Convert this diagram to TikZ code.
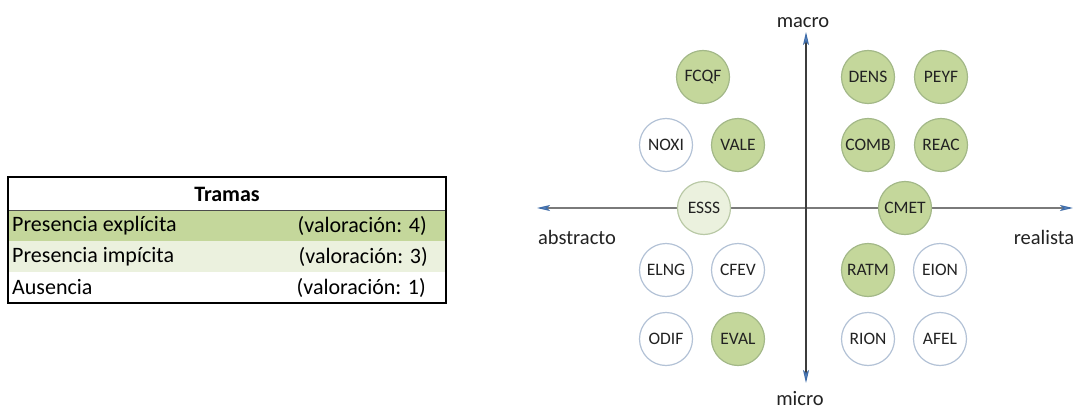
\documentclass[tikz,border=0pt]{standalone}
\usepackage{fontspec}
\setmainfont{Carlito}
\usetikzlibrary{arrows.meta}

\definecolor{explicit}{HTML}{C4D79B}
\definecolor{implicit}{HTML}{EBF1DE}
\definecolor{greenline}{HTML}{A3B888}
\definecolor{paleline}{HTML}{B9C9A6}
\definecolor{blueline}{HTML}{B3C2D6}
\definecolor{axisgray}{HTML}{7A7A7A}
\definecolor{axisdark}{HTML}{3C3C3C}
\definecolor{tipblue}{HTML}{5E8BC8}
\definecolor{tipedge}{HTML}{3F6CA8}
\definecolor{ink}{HTML}{222222}

\tikzset{
  x=1pt, y=-1pt,
  tip/.style={-{Stealth[length=13pt,width=6pt,inset=3pt,fill=tipblue,color=tipedge]}},
  haxis/.style={draw=axisgray, line width=1.1pt},
  vaxis/.style={draw=axisdark, line width=1.1pt},
  axislabel/.style={font=\fontsize{20.5}{24}\selectfont, text=ink, inner sep=0pt, anchor=base},
  bubble/.style={circle, minimum size=53pt, inner sep=0pt, line width=1.2pt,
                 font=\fontsize{17.5}{20}\selectfont, text=ink},
  present/.style={bubble, fill=explicit, draw=greenline},
  implied/.style={bubble, fill=implicit, draw=paleline},
  absent/.style={bubble, fill=white, draw=blueline},
  celltext/.style={font=\fontsize{22}{26}\selectfont, text=black, inner sep=0pt},
}

\begin{document}
\begin{tikzpicture}
\useasboundingbox (0,0) rectangle (1078,409);

% ---- legend table ----
\fill[explicit] (8,210) rectangle (446,241);
\fill[implicit] (8,241) rectangle (446,272);
\draw[black!70, line width=1pt] (8,210) -- (446,210);
\draw[black, line width=2pt] (8,177) rectangle (446,303);

\node[celltext, font=\fontsize{22}{26}\selectfont\bfseries] (head) at (227,194) {Tramas};
\node[celltext, anchor=west] (r1a) at (12,225.5) {Presencia explícita};
\node[celltext, anchor=east] (r1b) at (427,225.5) {(valoración: 4)};
\node[celltext, anchor=west] (r2a) at (12,256.5) {Presencia impícita};
\node[celltext, anchor=east] (r2b) at (428,256.5) {(valoración: 3)};
\node[celltext, anchor=west] (r3a) at (12,287.5) {Ausencia};
\node[celltext, anchor=east] (r3b) at (426,287.5) {(valoración: 1)};

% ---- axes ----
\coordinate (xl) at (537,208);
\coordinate (xr) at (1073,208);
\coordinate (yt) at (806,32);
\coordinate (yb) at (806,383);
\coordinate (o) at (806,208);

\draw[haxis, tip] (o) -- (xl);
\draw[haxis, tip] (o) -- (xr);
\draw[vaxis, tip] (o) -- (yt);
\draw[vaxis, tip] (o) -- (yb);

\node[axislabel] (macro) at (803,28) {macro};
\node[axislabel] (micro) at (800,405) {micro};
\node[axislabel] (abs) at (577,244) {abstracto};
\node[axislabel] (real) at (1044,244) {realista};

% ---- topics ----
\node[present] (fcqf) at (703,77)  {FCQF};
\node[present] (dens) at (868,77)  {DENS};
\node[present] (peyf) at (941,77)  {PEYF};

\node[absent]  (noxi) at (666,145) {NOXI};
\node[present] (vale) at (738,145) {VALE};
\node[present] (comb) at (868,145) {COMB};
\node[present] (reac) at (941,145) {REAC};

\node[implied] (esss) at (704,208) {ESSS};
\node[present] (cmet) at (905,208) {CMET};

\node[absent]  (elng) at (666,270) {ELNG};
\node[absent]  (cfev) at (738,270) {CFEV};
\node[present] (ratm) at (868,270) {RATM};
\node[absent]  (eion) at (940,270) {EION};

\node[absent]  (odif) at (666,339) {ODIF};
\node[present] (eval) at (738,339) {EVAL};
\node[absent]  (rion) at (868,339) {RION};
\node[absent]  (afel) at (940,339) {AFEL};
\end{tikzpicture}
\end{document}
